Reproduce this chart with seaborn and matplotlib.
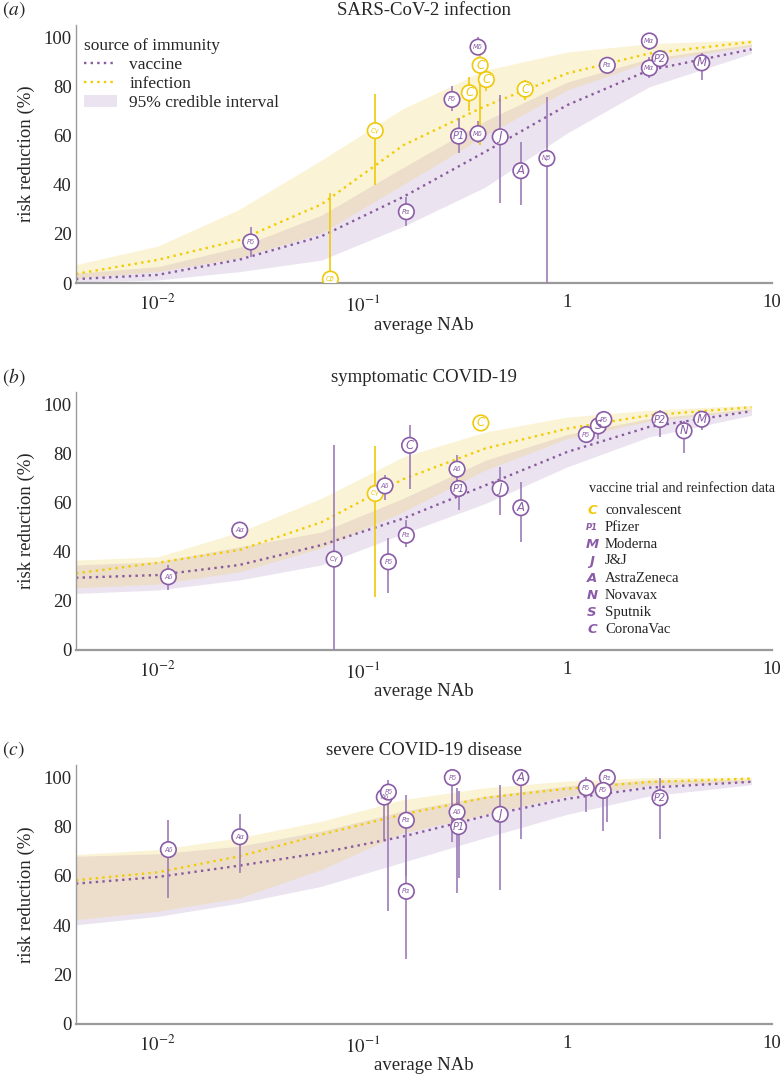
import numpy as np
import pandas as pd
import matplotlib
matplotlib.use("Agg")
import matplotlib.pyplot as plt
import seaborn as sns
from matplotlib.lines import Line2D
from matplotlib.patches import Patch
from matplotlib.ticker import LogLocator, NullFormatter

# ---------------- data ----------------
# average NAb values at which the fitted curves were read
curve_nab = [0.004, 0.01, 0.0251, 0.0631, 0.158, 0.398, 1.0, 2.51, 7.94]

# panel (a) SARS-CoV-2 infection : fitted curves and 95% credible intervals
a_vac = [1.6, 3.3, 9.5, 19.0, 35.0, 53.4, 72.4, 86.6, 95.1]
a_vac_lo = [0.4, 1.2, 4.6, 9.3, 23.0, 39.0, 61.0, 79.8, 93.4]
a_vac_hi = [4.0, 6.6, 14.6, 27.6, 47.0, 66.0, 81.8, 91.3, 97.2]
a_inf = [3.7, 9.4, 17.5, 32.0, 56.0, 72.0, 85.3, 93.4, 98.1]
a_inf_lo = [2.0, 4.6, 10.2, 20.3, 40.0, 60.0, 78.5, 90.0, 96.3]
a_inf_hi = [7.5, 15.0, 30.0, 50.0, 71.0, 86.6, 94.0, 97.4, 99.0]

# panel (b) symptomatic COVID-19
b_vac = [29.4, 30.5, 34.6, 42.7, 53.5, 67.0, 80.6, 90.8, 97.2]
b_vac_lo = [23.0, 24.4, 28.5, 34.6, 47.3, 59.6, 74.5, 86.7, 95.5]
b_vac_hi = [34.6, 35.9, 42.0, 48.0, 61.7, 77.2, 87.7, 94.2, 98.2]
b_inf = [31.2, 35.5, 40.7, 52.0, 69.5, 82.0, 90.1, 95.5, 98.8]
b_inf_lo = [25.3, 26.8, 31.8, 41.5, 56.2, 73.2, 86.0, 93.1, 97.6]
b_inf_hi = [36.6, 37.9, 48.0, 61.7, 78.6, 88.7, 94.8, 97.6, 99.6]

# panel (c) severe COVID-19 disease
c_vac = [56.9, 59.6, 64.2, 69.4, 76.0, 84.3, 91.3, 95.8, 98.2]
c_vac_lo = [40.2, 43.6, 49.0, 55.8, 65.6, 75.5, 85.0, 92.4, 97.0]
c_vac_hi = [68.0, 69.0, 72.1, 78.2, 86.3, 92.4, 96.5, 98.9, 99.0]
c_inf = [58.3, 61.5, 68.0, 76.8, 85.0, 91.7, 95.4, 98.1, 99.5]
c_inf_lo = [42.3, 45.7, 51.1, 62.6, 77.5, 85.0, 92.4, 96.7, 98.2]
c_inf_hi = [68.7, 70.7, 75.5, 82.2, 91.0, 95.8, 98.5, 99.9, 100.0]

# study data points: NAb, efficacy, lower, upper, label, source (v = vaccine, i = infection)
a_nab = [0.0285, 0.0698, 0.1156, 0.164, 0.274, 0.295, 0.333, 0.367, 0.367, 0.376, 0.403, 0.471, 0.594, 0.624, 0.796, 1.57, 2.52, 2.52, 2.84, 4.54]
a_eff = [16.7, 1.6, 62.0, 29.0, 74.7, 59.8, 77.4, 96.0, 60.8, 88.6, 82.8, 59.5, 45.7, 78.9, 50.7, 88.6, 98.5, 87.5, 91.3, 89.6]
a_lo = [10.6, 0.0, 40.0, 23.0, 70.0, 53.0, 70.0, 94.0, 57.0, 56.0, 78.0, 32.6, 31.7, 74.4, 0.0, 86.0, 95.0, 83.6, 88.0, 82.8]
a_hi = [22.8, 36.6, 77.0, 35.0, 80.0, 67.0, 84.0, 100.0, 66.0, 93.0, 88.0, 76.4, 57.4, 82.5, 75.7, 91.7, 100.0, 92.0, 94.5, 93.5]
a_lab = ["Pδ", "Cβ", "Cγ", "Pα", "Pδ", "P1", "C", "Mδ", "Mδ", "C", "C", "J", "A", "C", "Nβ", "Pα", "Mα", "Mα", "P2", "M"]
a_src = ["v", "i", "i", "v", "v", "v", "i", "v", "v", "i", "i", "v", "v", "i", "v", "v", "v", "v", "v", "v"]

b_nab = [0.0113, 0.0252, 0.0728, 0.1156, 0.129, 0.134, 0.164, 0.170, 0.379, 0.290, 0.295, 0.471, 0.594, 1.24, 1.42, 1.51, 2.84, 3.72, 4.54]
b_eff = [29.8, 48.8, 37.0, 63.7, 66.8, 35.9, 46.7, 83.3, 92.4, 73.6, 65.7, 65.7, 57.9, 87.7, 91.2, 93.8, 93.8, 89.2, 93.9]
b_lo = [24.4, 45.0, 0.0, 21.4, 61.0, 23.0, 42.0, 65.4, 92.4, 68.4, 57.0, 54.9, 44.0, 85.5, 86.0, 92.0, 86.7, 80.0, 89.4]
b_hi = [34.6, 51.6, 83.6, 83.0, 71.4, 45.7, 52.8, 91.7, 92.4, 79.3, 66.0, 74.5, 68.4, 90.0, 93.0, 95.0, 97.6, 93.0, 95.8]
b_lab = ["Aδ", "Aα", "Cγ", "Cγ", "Aδ", "Pδ", "Pα", "C", "C", "Aδ", "P1", "J", "A", "Pδ", "S", "Pδ", "P2", "N", "M"]
b_src = ["v", "v", "v", "i", "v", "v", "v", "v", "i", "v", "v", "v", "v", "v", "v", "v", "v", "v", "v"]

c_nab = [0.0113, 0.0252, 0.128, 0.134, 0.164, 0.164, 0.275, 0.290, 0.295, 0.471, 0.594, 1.24, 1.57, 1.50, 2.84]
c_eff = [70.7, 75.9, 92.0, 94.0, 82.6, 53.8, 99.9, 85.9, 80.0, 85.0, 99.9, 95.8, 99.9, 94.7, 91.7]
c_lo = [51.1, 61.3, 75.0, 46.0, 60.0, 26.3, 73.7, 53.1, 59.2, 54.5, 75.0, 85.9, 81.8, 78.2, 75.0]
c_hi = [82.9, 85.0, 97.0, 98.9, 93.0, 75.0, 100.0, 95.8, 94.4, 96.7, 100.0, 100.0, 100.0, 100.0, 99.9]
c_lab = ["Aδ", "Aα", "Aδ", "Pδ", "Pα", "Pα", "Pδ", "Aδ", "P1", "J", "A", "Pδ", "Pα", "Pδ", "P2"]
c_src = ["v"] * 15

titles = ["SARS-CoV-2 infection", "symptomatic COVID-19", "severe COVID-19 disease"]
panel_tags = ["a", "b", "c"]
y_ticks = [0, 20, 40, 60, 80, 100]
x_ticks = [0.01, 0.1, 1, 10]
x_tick_labels = [r"$10^{-2}$", r"$10^{-1}$", "1", "10"]

legend_b_symbols = ["C", "P1", "M", "J", "A", "N", "S", "C"]
legend_b_names = ["convalescent", "Pfizer", "Moderna", "J&J", "AstraZeneca", "Novavax", "Sputnik", "CoronaVac"]
legend_b_src = ["i", "v", "v", "v", "v", "v", "v", "v"]

# ---------------- style ----------------
sns.set_theme(style="white")
plt.rcParams["font.family"] = ["Liberation Serif", "DejaVu Serif"]
plt.rcParams["mathtext.fontset"] = "stix"

PURPLE = "#8a5ca6"
PURPLE_ERR = "#9d7cb8"
YELLOW = "#efc90a"
BAND_V = "#8c64aa"
BAND_I = "#f0cf55"
LINE_V = "#8a5a9e"
LINE_I = "#f2cc00"
SPINE = "#9a9a9a"
col = {"v": PURPLE, "i": YELLOW}
errcol = {"v": PURPLE_ERR, "i": YELLOW}

W, H = 782, 1080
fig = plt.figure(figsize=(W / 100, H / 100), dpi=100)

# axes boxes in pixels: left, top, right, bottom
boxes = [(76, 25, 772, 283), (76, 392, 772, 650), (76, 765, 772, 1024)]

panels = [
    (a_vac, a_vac_lo, a_vac_hi, a_inf, a_inf_lo, a_inf_hi, a_nab, a_eff, a_lo, a_hi, a_lab, a_src),
    (b_vac, b_vac_lo, b_vac_hi, b_inf, b_inf_lo, b_inf_hi, b_nab, b_eff, b_lo, b_hi, b_lab, b_src),
    (c_vac, c_vac_lo, c_vac_hi, c_inf, c_inf_lo, c_inf_hi, c_nab, c_eff, c_lo, c_hi, c_lab, c_src),
]

for k, (box, pdata) in enumerate(zip(boxes, panels)):
    l, t, r, b = box
    ax = fig.add_axes([l / W, 1 - b / H, (r - l) / W, (b - t) / H])
    vac, vlo, vhi, inf, ilo, ihi, nab, eff, lo, hi, lab, src = pdata

    ax.fill_between(curve_nab, vlo, vhi, color=BAND_V, alpha=0.17, lw=0, zorder=1)
    ax.fill_between(curve_nab, ilo, ihi, color=BAND_I, alpha=0.24, lw=0, zorder=1.1)

    df = pd.DataFrame({
        "nab": curve_nab * 2,
        "eff": vac + inf,
        "source": ["vaccine"] * len(curve_nab) + ["infection"] * len(curve_nab),
    })
    sns.lineplot(data=df, x="nab", y="eff", hue="source",
                 palette={"vaccine": LINE_V, "infection": LINE_I},
                 linestyle=(0, (1, 1.8)), lw=1.7, legend=False, ax=ax, zorder=2)

    for xi, yi, lo_i, hi_i, lb, s in zip(nab, eff, lo, hi, lab, src):
        ax.vlines(xi, lo_i, hi_i, color=errcol[s], lw=1.2, zorder=3)
    sns.scatterplot(x=nab, y=eff, hue=src, palette={"v": PURPLE, "i": YELLOW},
                    s=125, linewidth=1.2, legend=False, ax=ax, zorder=4)
    coll = ax.collections[-1]
    coll.set_facecolor("white")
    coll.set_edgecolor([col[s] for s in src])
    for xi, yi, lb, s in zip(nab, eff, lab, src):
        fs = 8.5 if len(lb) == 1 else (7 if lb in ("P1", "P2") else 4.8)
        ax.text(xi, yi, lb, ha="center", va="center", fontsize=fs, style="italic",
                color=col[s], family="DejaVu Sans", zorder=5)

    ax.set_xscale("log")
    ax.set_xlim(0.004, 10)
    ax.set_ylim(0, 105)
    ax.set_xticks(x_ticks)
    ax.set_xticklabels(x_tick_labels)
    ax.xaxis.set_minor_locator(LogLocator(base=10, subs=np.arange(2, 10)))
    ax.xaxis.set_minor_formatter(NullFormatter())
    ax.set_yticks(y_ticks)
    ax.tick_params(axis="x", which="major", length=4, width=0.8, color=SPINE, labelsize=13.5, pad=4)
    ax.tick_params(axis="x", which="minor", length=2.5, width=0.6, color=SPINE)
    ax.tick_params(axis="y", length=0, labelsize=13.5, pad=3)
    for sp in ["top", "right"]:
        ax.spines[sp].set_visible(False)
    ax.spines["left"].set_color(SPINE)
    ax.spines["left"].set_linewidth(1.0)
    ax.spines["bottom"].set_color(SPINE)
    ax.spines["bottom"].set_linewidth(1.6)
    ax.set_xlabel("average NAb", fontsize=13.5, labelpad=1)
    ax.set_ylabel("risk reduction (%)", fontsize=13.5, labelpad=6)
    ax.set_title(titles[k], fontsize=13.5, pad=7)
    fig.text(2 / W, 1 - (t - 15) / H, r"$(\mathit{" + panel_tags[k] + r"})$", fontsize=14,
             ha="left", va="center")

    if k == 0:
        handles = [Line2D([], [], color=LINE_V, ls=(0, (1, 1.8)), lw=1.7),
                   Line2D([], [], color=LINE_I, ls=(0, (1, 1.8)), lw=1.7),
                   Patch(facecolor=BAND_V, alpha=0.17, lw=0)]
        leg = ax.legend(handles, ["vaccine", "infection", "95% credible interval"],
                        title="source of immunity", loc="upper left",
                        bbox_to_anchor=(0.012, 0.948), frameon=False, fontsize=12.5,
                        title_fontsize=12.5, labelspacing=0.15, handlelength=1.9,
                        handletextpad=0.7, borderpad=0, borderaxespad=0, alignment="left")

    if k == 1:
        fig.text(589 / W, 1 - 488 / H, "vaccine trial and reinfection data", fontsize=10.3,
                 ha="left", va="center")
        ys = [511, 527.7, 544.3, 561, 578.3, 595.7, 612.7, 629.3]
        for yy, sym, name, s in zip(ys, legend_b_symbols, legend_b_names, legend_b_src):
            fs = 6 if sym == "P1" else 9.5
            fig.text(592 / W, 1 - yy / H, sym, fontsize=fs, style="italic", weight="bold",
                     color=col[s], family="DejaVu Sans", ha="center", va="center")
            fig.text(605 / W, 1 - yy / H, name, fontsize=10.6, ha="left", va="center")

fig.savefig("out.png", dpi=100)
